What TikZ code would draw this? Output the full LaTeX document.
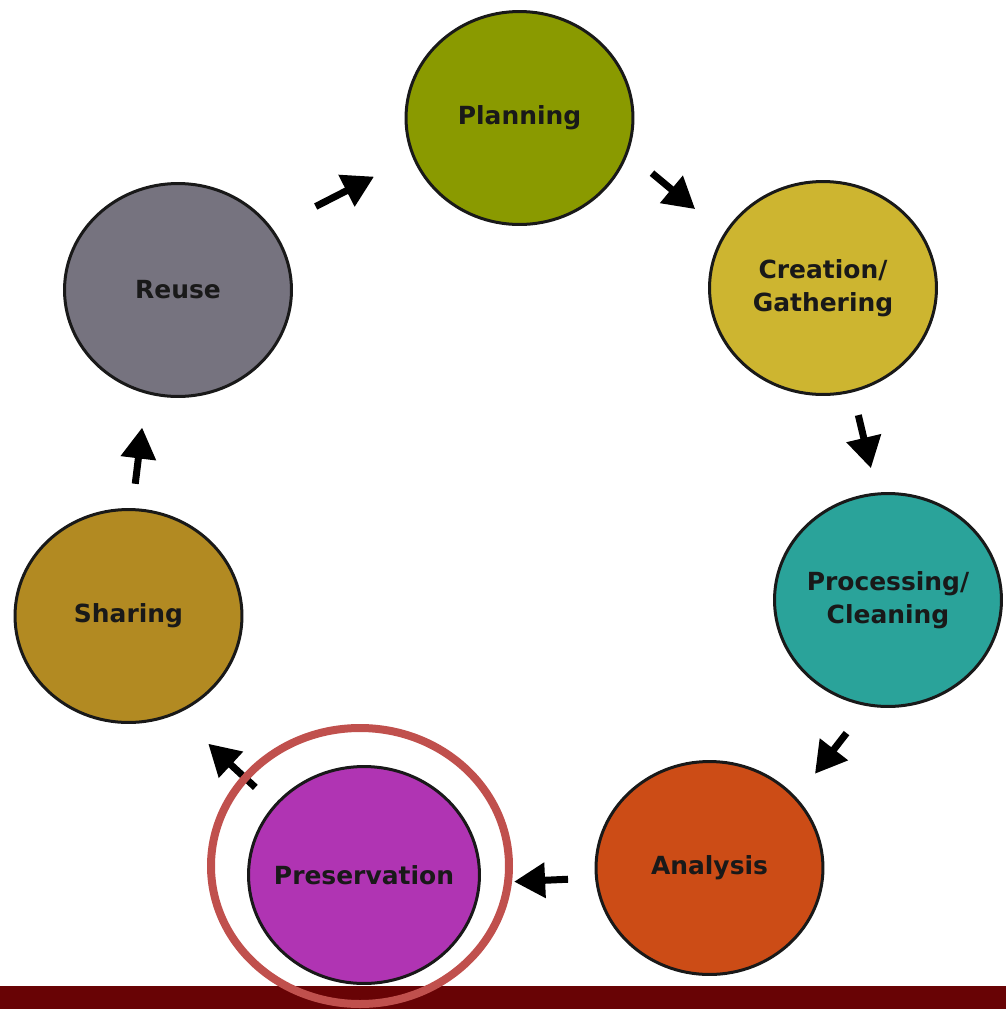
\documentclass[tikz,border=0pt]{standalone}
\usepackage{fontspec}
\setmainfont{DejaVu Sans}
\usetikzlibrary{shapes.geometric,arrows.meta}

\definecolor{cplan}{RGB}{138,154,0}
\definecolor{ccreate}{RGB}{205,181,48}
\definecolor{cproc}{RGB}{42,163,154}
\definecolor{cana}{RGB}{204,76,22}
\definecolor{cpres}{RGB}{176,52,179}
\definecolor{cshare}{RGB}{178,138,34}
\definecolor{creuse}{RGB}{118,115,127}
\definecolor{cring}{RGB}{192,80,77}
\definecolor{cbar}{RGB}{104,3,5}

\begin{document}
\begin{tikzpicture}[x=0.02cm,y=-0.02cm,
  stage/.style={ellipse,draw=black!90,line width=0.06cm,minimum width=4.54cm,minimum height=4.26cm,
    inner sep=-0.6cm,align=center,text=black!90,font=\bfseries\fontsize{14.2}{18.8}\selectfont},
  flow/.style={-{Triangle[length=0.62cm,width=0.68cm]},line width=0.14cm}]
\useasboundingbox (0,0) rectangle (1006,1009);

% the cycle
\node[stage,fill=cplan] (plan) at (519.5,118) {Planning};
\node[stage,fill=ccreate] (create) at (823,288) {Creation/\\Gathering};
\node[stage,fill=cproc] (proc) at (888,600) {Processing/\\Cleaning};
\node[stage,fill=cana] (ana) at (709.5,868) {Analysis};
\node[stage,fill=cpres,minimum width=4.62cm,minimum height=4.34cm] (pres) at (364,875) {Preservation};
\node[stage,fill=cshare] (share) at (128.5,616) {Sharing};
\node[stage,fill=creuse] (reuse) at (178,290) {Reuse};

% arrows
\draw[flow,shorten <=0.97cm,shorten >=0.86cm] (reuse.33.8) -- (plan.200.5);
\draw[flow,shorten <=0.62cm,shorten >=0.75cm] (plan.342.1) -- (create.151.1);
\draw[flow,shorten <=0.47cm,shorten >=0.50cm] (create.286) -- (proc.96.6);
\draw[flow,shorten <=0.68cm,shorten >=0.60cm] (proc.259.6) -- (ana.39.2);
\draw[flow,shorten <=0.54cm,shorten >=0.67cm] (ana.185.5) -- (pres.356.1);
\draw[flow,shorten <=0.51cm,shorten >=0.87cm] (pres.142.5) -- (share.296.6);
\draw[flow,shorten <=0.49cm,shorten >=0.68cm] (share.88.4) -- (reuse.253.8);

% bottom bar and highlight
\fill[cbar] (0,986) rectangle (1006,1009);
\draw[cring,line width=0.16cm] (360,866) ellipse [x radius=149,y radius=138];
\end{tikzpicture}
\end{document}
